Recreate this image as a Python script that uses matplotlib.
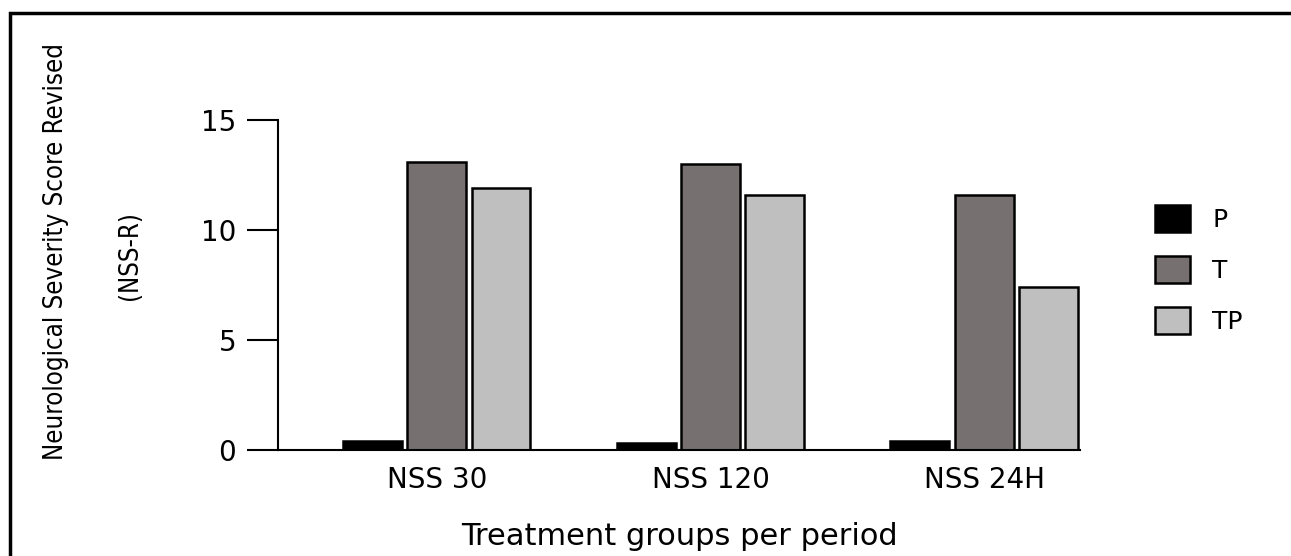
import numpy as np
import matplotlib.pyplot as plt
from matplotlib.patches import Rectangle

periods = ['NSS 30', 'NSS 120', 'NSS 24H']
groups = ['P', 'T', 'TP']
p_vals = [0.4, 0.3, 0.4]
t_vals = [13.1, 13.0, 11.6]
tp_vals = [11.9, 11.6, 7.4]
colors = ['#000000', '#767170', '#bfbfbf']

fig = plt.figure(figsize=(12.91, 5.56), dpi=100)
ax = fig.add_axes([0.2153, 0.191, 0.6213, 0.593])

x = np.arange(len(periods))
w = 0.215
offs = [-0.235, 0.0, 0.235]
for vals, off, c, g in zip([p_vals, t_vals, tp_vals], offs, colors, groups):
    ax.bar(x + off, vals, width=w, color=c, edgecolor='black', linewidth=1.8, label=g)

ax.set_xlim(-0.58, 2.35)
ax.set_ylim(0, 15)
ax.set_yticks([0, 5, 10, 15])
ax.set_xticks(x)
ax.set_xticklabels(periods, fontsize=20)
ax.tick_params(axis='y', length=22, width=1.5, labelsize=20, pad=8)
ax.tick_params(axis='x', length=0, pad=12)
for s in ['top', 'right']:
    ax.spines[s].set_visible(False)
for s in ['left', 'bottom']:
    ax.spines[s].set_linewidth(1.5)

ax.set_xlabel('Treatment groups per period', fontsize=22, labelpad=20)

fig.text(0.043, 0.547, 'Neurological Severity Score Revised', rotation=90,
         ha='center', va='center', fontsize=18.5, stretch='condensed',
         family=['DejaVu Sans'])
fig.text(0.101, 0.54, '(NSS-R)', rotation=90, ha='center', va='center',
         fontsize=18.5, stretch='condensed', family=['DejaVu Sans'])

leg = ax.legend(loc='upper left', bbox_to_anchor=(1.065, 0.81), frameon=False,
                fontsize=18, handlelength=1.4, handleheight=1.3, labelspacing=0.95,
                handletextpad=0.9)

fig.patches.append(Rectangle((0.008, -0.02), 1.05, 0.997, transform=fig.transFigure,
                             fill=False, edgecolor='black', linewidth=2.5))

fig.savefig('out.png', dpi=100)
